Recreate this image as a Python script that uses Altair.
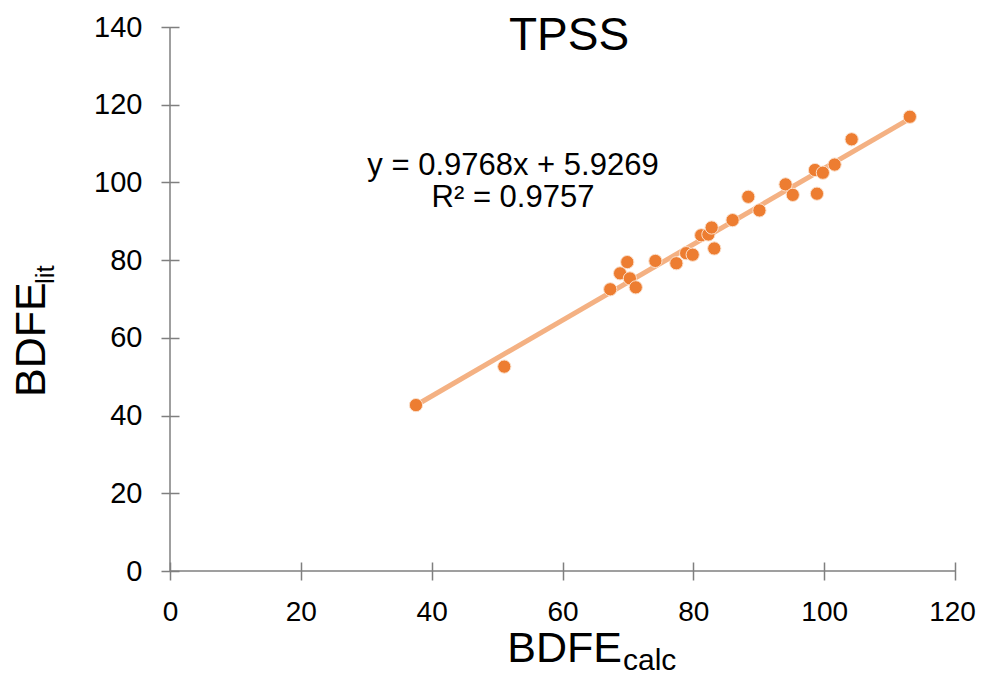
import altair as alt
import pandas as pd

# Data
bdfe_calc = [37.6, 51.1, 67.3, 68.8, 69.9, 70.3, 71.2, 74.2, 77.4, 78.9, 79.9, 81.2, 82.3,
             82.8, 83.2, 86.0, 88.4, 90.1, 94.1, 95.2, 98.6, 98.9, 99.8, 101.6, 104.2, 113.1]
bdfe_lit = [42.7, 52.6, 72.5, 76.6, 79.5, 75.3, 73.0, 79.8, 79.2, 81.8, 81.4, 86.4, 86.6,
            88.4, 83.0, 90.3, 96.3, 92.8, 99.5, 96.8, 103.2, 97.1, 102.5, 104.6, 111.1, 116.9]
slope = 0.9768
intercept = 5.9269
r2 = 0.9757
x_ticks = [0, 20, 40, 60, 80, 100, 120]
y_ticks = [0, 20, 40, 60, 80, 100, 120, 140]

W, H = 785, 544
FONT = "Liberation Sans"
ORANGE = "#ED7D31"
LIGHT = "#F4B183"
AXIS_GREY = "#7f7f7f"

pts = pd.DataFrame({"x": bdfe_calc, "y": bdfe_lit})
xmin, xmax = min(bdfe_calc), max(bdfe_calc)
trend = pd.DataFrame({"x": [xmin, xmax], "y": [slope * xmin + intercept, slope * xmax + intercept]})

xscale = alt.Scale(domain=[0, 120], nice=False, zero=False)
yscale = alt.Scale(domain=[0, 140], nice=False, zero=False)

xaxis = alt.Axis(values=x_ticks, grid=False, domain=False, offset=-9, tickSize=18,
                 tickColor=AXIS_GREY, tickWidth=1.5, labelFontSize=28, labelFont=FONT,
                 labelColor="black", labelPadding=18, title=None, labelFlush=False,
                 labelOffset={"condition": {"test": "datum.value == 120", "value": -3}, "value": 0})
yaxis = alt.Axis(values=y_ticks, grid=False, domain=False, offset=-9, tickSize=18,
                 tickColor=AXIS_GREY, tickWidth=1.5, labelFontSize=29, labelFont=FONT,
                 labelColor="black", labelPadding=19, title=None, labelFlush=False)

base = alt.Chart(pts)

points = base.mark_point(filled=True, size=175, color=ORANGE, opacity=1,
                         stroke="#fbe0cc", strokeWidth=1).encode(
    x=alt.X("x:Q", scale=xscale, axis=xaxis),
    y=alt.Y("y:Q", scale=yscale, axis=yaxis),
)

line = alt.Chart(trend).mark_line(color=LIGHT, strokeWidth=5).encode(
    x=alt.X("x:Q", scale=xscale),
    y=alt.Y("y:Q", scale=yscale),
)

xdomain = alt.Chart(pd.DataFrame({"a": [0]})).mark_rule(color=AXIS_GREY, strokeWidth=1.5).encode(
    x=alt.datum(0, scale=xscale), x2=alt.datum(120), y=alt.datum(0, scale=yscale))
ydomain = alt.Chart(pd.DataFrame({"a": [0]})).mark_rule(color=AXIS_GREY, strokeWidth=1.5).encode(
    y=alt.datum(0, scale=yscale), y2=alt.datum(140), x=alt.datum(0, scale=xscale))

def txt(text, x, y, size, align="center", angle=0):
    kw = dict(text=text, fontSize=size, font=FONT, color="black", align=align,
              baseline="alphabetic")
    if angle:
        kw["angle"] = angle
    return alt.Chart(pd.DataFrame({"a": [0]})).mark_text(**kw).encode(
        x=alt.value(x), y=alt.value(y))

title = txt("TPSS", 399, 23, 46)
eq1 = txt(f"y = {slope}x + {intercept}", 343, 148, 31)
eq2 = txt(f"R² = {r2}", 343, 180, 31)
xt1 = txt("BDFE", 452, 635, 43, align="right")
xt2 = txt("calc", 453, 643, 30, align="left")
yt1 = txt("BDFE", -125, 370, 43, align="left", angle=270)
yt2 = txt("lit", -116, 257, 26, align="left", angle=270)

chart = alt.layer(line, points, xdomain, ydomain, title, eq1, eq2, xt1, xt2, yt1, yt2).properties(
    width=W, height=H,
    autosize=alt.AutoSizeParams(type="none"),
    padding={"left": 162, "top": 19, "right": 22, "bottom": 100},
    background="white",
).configure_view(stroke=None, strokeWidth=0)

chart.save("out.html", embed_options={"renderer": "svg", "actions": False})
